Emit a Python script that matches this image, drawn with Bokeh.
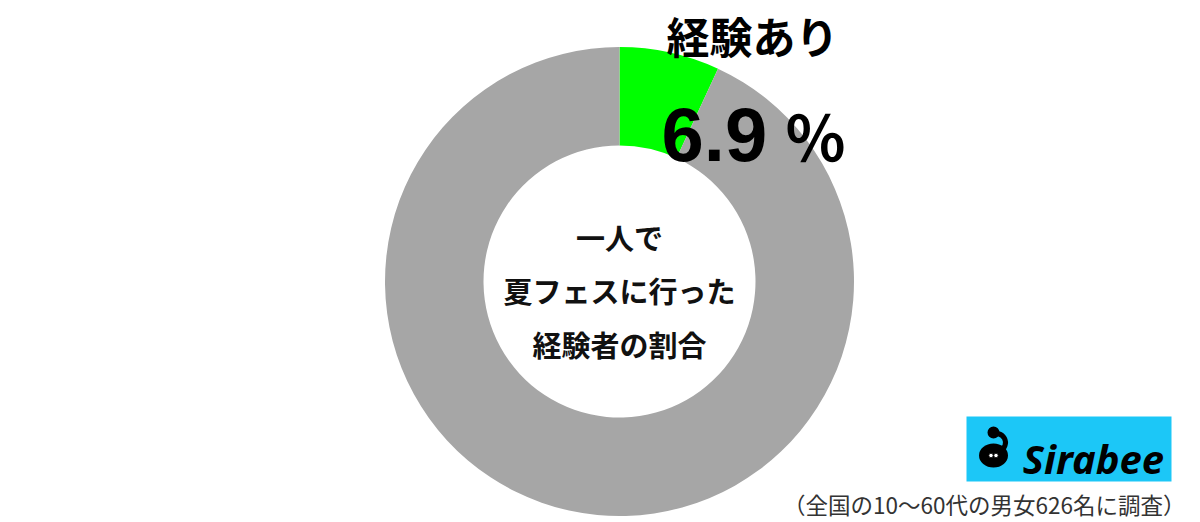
import math
from bokeh.plotting import figure
from bokeh.models import Range1d, ColumnDataSource
from bokeh.core.properties import value
from bokeh.embed import file_html
from bokeh.resources import INLINE

# ---- data ----
categories = ["経験あり", "経験なし"]
percentages = [6.9, 93.1]
slice_colors = ["#00ff00", "#a6a6a6"]
highlight_label = "経験あり"
highlight_number = "6.9"
highlight_unit = "％"
center_lines = ["一人で", "夏フェスに行った", "経験者の割合"]
footnote = "（全国の10〜60代の男女626名に調査）"
brand = "Sirabee"

W, H = 1200, 522
FONT = "Noto Sans CJK JP"

def Y(py):
    # convert page pixel row to data y
    return H - py

p = figure(width=W, height=H, output_backend="svg", toolbar_location=None,
           x_range=Range1d(0, W), y_range=Range1d(0, H),
           min_border=0, min_border_left=0, min_border_right=0,
           min_border_top=0, min_border_bottom=0)
p.axis.visible = False
p.grid.visible = False
p.outline_line_color = None
p.background_fill_color = "white"
p.border_fill_color = "white"

# ---- donut ----
cx, cy = 619, Y(281)
r_in, r_out = 136, 234.5
starts, ends = [], []
cum = 0.0
for v in percentages:
    a0 = math.pi / 2 - (cum + v) / 100 * 2 * math.pi
    a1 = math.pi / 2 - cum / 100 * 2 * math.pi
    starts.append(a0)
    ends.append(a1)
    cum += v
src = ColumnDataSource(dict(cat=categories, val=percentages, start=starts,
                            end=ends, color=slice_colors))
p.annular_wedge(x=cx, y=cy, inner_radius=r_in, outer_radius=r_out,
                start_angle="start", end_angle="end", fill_color="color",
                line_color=None, source=src)

# ---- labels ----
p.text(x=[752], y=[Y(34)], text=[highlight_label], text_font=value(FONT),
       text_font_style="bold", text_font_size="43px", text_align="center",
       text_baseline="middle", text_color="black")
p.text(x=[661], y=[Y(134)], text=[highlight_number],
       text_font=value("Liberation Sans"), text_font_style="bold",
       text_font_size="76px", text_align="left", text_baseline="middle",
       text_color="black")
p.text(x=[815], y=[Y(134)], text=[highlight_unit], text_font=value(FONT),
       text_font_style="bold", text_font_size="62px", text_align="center",
       text_baseline="middle", text_color="black")

p.text(x=[619] * 3, y=[Y(236), Y(289), Y(343)], text=center_lines,
       text_font=value(FONT), text_font_style="bold", text_font_size="29px",
       text_align="center", text_baseline="middle", text_color="#111111")

p.text(x=[1185], y=[Y(503)], text=[footnote], text_font=value(FONT),
       text_font_size="22.5px", text_align="right", text_baseline="middle",
       text_color="#333333")

# ---- logo ----
p.quad(left=[966], right=[1171], top=[Y(416)], bottom=[Y(481)],
       fill_color="#1cc7f7", line_color=None)
p.ellipse(x=[993], y=[Y(455)], width=[29], height=[24], fill_color="black",
          line_color=None)
p.circle(x=[993], y=[Y(432)], radius=[6], fill_color="black", line_color=None)
p.arc(x=[996], y=[Y(442)], radius=9, start_angle=-1.2, end_angle=2.2,
      line_color="black", line_width=5)
p.circle(x=[990.5, 995.5], y=[Y(455), Y(455)], radius=[2.2, 2.2],
         fill_color="white", line_color="black", line_width=0.8)
p.text(x=[1093], y=[Y(458)], text=[brand], text_font=value("Noto Sans"),
       text_font_style="bold italic", text_font_size="40px", text_align="center",
       text_baseline="middle", text_color="black")

open("out.html", "w").write(file_html(p, INLINE))
